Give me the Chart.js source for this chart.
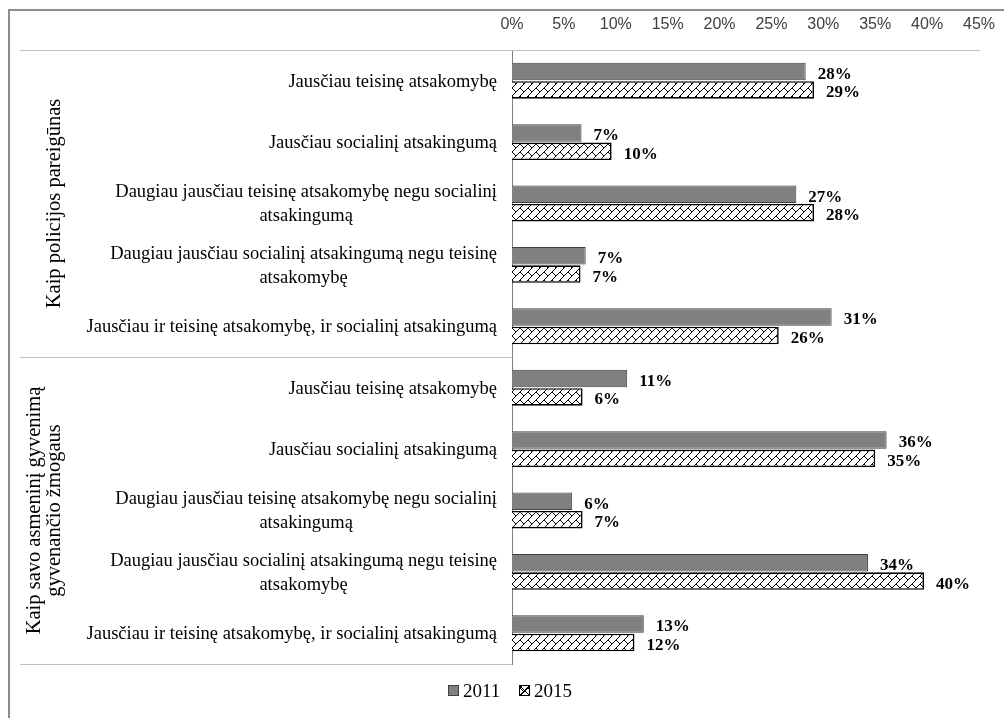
<!DOCTYPE html>
<html>
<head>
<meta charset="utf-8">
<script src="https://cdn.jsdelivr.net/npm/chart.js@4"></script>
<style>
  html, body { margin: 0; padding: 0; background: #fff; }
  #wrap { width: 1004px; height: 718px; }
</style>
</head>
<body>
<div id="wrap"><canvas id="chart" width="1004" height="718"></canvas></div>
<script>
// kategorijos (eilutės iš viršaus į apačią), kelių eilučių pavadinimai - masyvai
const categories = [
    ['Jausčiau teisinę atsakomybę'],
    ['Jausčiau socialinį atsakingumą'],
    ['Daugiau jausčiau teisinę atsakomybę negu socialinį', 'atsakingumą'],
    ['Daugiau jausčiau socialinį atsakingumą negu teisinę', 'atsakomybę'],
    ['Jausčiau ir teisinę atsakomybę, ir socialinį atsakingumą'],
    ['Jausčiau teisinę atsakomybę'],
    ['Jausčiau socialinį atsakingumą'],
    ['Daugiau jausčiau teisinę atsakomybę negu socialinį', 'atsakingumą'],
    ['Daugiau jausčiau socialinį atsakingumą negu teisinę', 'atsakomybę'],
    ['Jausčiau ir teisinę atsakomybę, ir socialinį atsakingumą']
];
const groups = [
    { lines: ['Kaip policijos pareigūnas'], from: 0, to: 4 },
    { lines: ['Kaip savo asmeninį gyvenimą', 'gyvenančio žmogaus'], from: 5, to: 9 }
];
const seriesNames = ['2011', '2015'];
// stulpelių ilgiai (nuskaityti nuo paveikslo)
const values2011 = [28.3, 6.7, 27.4, 7.1, 30.8, 11.1, 36.1, 5.8, 34.3, 12.7];
const values2015 = [29.1, 9.6, 29.1, 6.6, 25.7, 6.8, 35.0, 6.8, 39.7, 11.8];
// užrašai prie stulpelių
const labels2011 = ['28%', '7%', '27%', '7%', '31%', '11%', '36%', '6%', '34%', '13%'];
const labels2015 = ['29%', '10%', '28%', '7%', '26%', '6%', '35%', '7%', '40%', '12%'];
const tickMax = 45;
const tickStep = 5;

const serif = '"Liberation Serif", "Times New Roman", serif';

// brūkšniuotas raštas 2015 m.
function makeHatch() {
    const c = document.createElement('canvas');
    c.width = 8; c.height = 8;
    const g = c.getContext('2d');
    g.fillStyle = '#fff';
    g.fillRect(0, 0, 8, 8);
    g.strokeStyle = '#000';
    g.lineWidth = 1;
    g.beginPath();
    g.moveTo(-1, 9); g.lineTo(9, -1);
    g.moveTo(0, 0); g.lineTo(4, 4);
    g.stroke();
    return g.createPattern(c, 'repeat');
}
const ctx = document.getElementById('chart').getContext('2d');
const hatch = makeHatch();

const decorPlugin = {
    id: 'decor',
    beforeDraw(chart) {
        const c = chart.ctx;
        c.save();
        c.fillStyle = '#fff';
        c.fillRect(0, 0, chart.width, chart.height);
        c.restore();
    },
    afterDatasetsDraw(chart) {
        const c = chart.ctx;
        c.save();
        c.font = 'bold 17px ' + serif;
        c.fillStyle = '#000';
        c.textAlign = 'left';
        c.textBaseline = 'middle';
        const texts = [labels2011, labels2015];
        chart.data.datasets.forEach(function(ds, di) {
            chart.getDatasetMeta(di).data.forEach(function(bar, i) {
                c.fillText(texts[di][i], bar.x + 12, bar.y + 3);
            });
        });
        c.restore();
    },
    afterDraw(chart) {
        const c = chart.ctx;
        const y = chart.scales.y;
        const area = chart.chartArea;
        c.save();
        // rėmelis
        c.strokeStyle = '#8c8c8c';
        c.lineWidth = 2;
        c.beginPath();
        c.moveTo(9, chart.height);
        c.lineTo(9, 10);
        c.lineTo(chart.width, 10);
        c.stroke();

        // skiriamosios linijos
        c.strokeStyle = '#bfbfbf';
        c.lineWidth = 1;
        c.beginPath();
        c.moveTo(20, area.top + 0.5);
        c.lineTo(980, area.top + 0.5);
        groups.forEach(function(gr) {
            const yy = Math.round(y.getPixelForValue(gr.to + 0.5)) + 0.5;
            c.moveTo(20, yy);
            c.lineTo(area.left, yy);
        });
        c.stroke();

        // kategorijų pavadinimai
        c.font = '18.5px ' + serif;
        c.fillStyle = '#000';
        c.textAlign = 'center';
        c.textBaseline = 'middle';
        const lh = 24;
        categories.forEach(function(lines, i) {
            const cy = y.getPixelForValue(i) + 1;
            let w = 0;
            lines.forEach(function(l) { w = Math.max(w, c.measureText(l).width); });
            const cx = area.left - 15 - w / 2;
            lines.forEach(function(l, k) {
                c.fillText(l, cx, cy - (lines.length - 1) * lh / 2 + k * lh);
            });
        });

        // grupių pavadinimai (pasukti)
        c.font = '20.5px ' + serif;
        groups.forEach(function(gr) {
            const top = y.getPixelForValue(gr.from - 0.5);
            const bottom = y.getPixelForValue(gr.to + 0.5);
            const cy = (top + bottom) / 2;
            const n = gr.lines.length;
            gr.lines.forEach(function(l, k) {
                const cx = 55 - (n - 1 - k) * 20;
                c.save();
                c.translate(cx, cy);
                c.rotate(-Math.PI / 2);
                c.fillText(l, 0, 0);
                c.restore();
            });
        });

        // legenda
        const ly = 691;
        c.font = '19px ' + serif;
        c.textAlign = 'left';
        const items = chart.data.datasets;
        const xs = [448, 519];
        items.forEach(function(ds, di) {
            const bx = xs[di];
            c.fillStyle = ds.backgroundColor;
            c.fillRect(bx, ly - 6, 11, 11);
            c.strokeStyle = ds.borderColor;
            c.lineWidth = 1;
            c.strokeRect(bx + 0.5, ly - 5.5, 10, 10);
            if (di === 1) {
                c.beginPath();
                c.moveTo(bx + 1, ly - 5); c.lineTo(bx + 10, ly + 4);
                c.moveTo(bx + 10, ly - 5); c.lineTo(bx + 1, ly + 4);
                c.stroke();
            }
            c.fillStyle = '#000';
            c.fillText(ds.label, bx + 15, ly + 1);
        });
        c.restore();
    }
};

new Chart(ctx, {
    type: 'bar',
    data: {
        labels: categories,
        datasets: [{
            label: seriesNames[0],
            data: values2011,
            backgroundColor: '#808080',
            borderColor: '#404040',
            borderWidth: 1,
            categoryPercentage: 0.6,
            barPercentage: 0.95
        }, {
            label: seriesNames[1],
            data: values2015,
            backgroundColor: hatch,
            borderColor: '#000',
            borderWidth: 1.6,
            categoryPercentage: 0.6,
            barPercentage: 0.95
        }]
    },
    options: {
        indexAxis: 'y',
        responsive: false,
        animation: false,
        layout: { padding: { top: 10, right: 25, bottom: 54, left: 0 } },
        scales: {
            x: {
                position: 'top',
                min: 0,
                max: tickMax,
                afterFit: function(s) {
                    s.height = 40;
                    s.paddingLeft = 0;
                    s.paddingRight = 0;
                },
                ticks: {
                    stepSize: tickStep,
                    padding: 16,
                    color: '#404040',
                    font: { family: '"Liberation Sans", Arial, sans-serif', size: 16 },
                    callback: function(v) { return v + '%'; }
                },
                grid: { display: false, drawTicks: false },
                border: { display: false }
            },
            y: {
                afterFit: function(s) { s.width = 512; },
                ticks: { display: false },
                grid: { display: false, drawTicks: false },
                border: { display: true, color: '#7f7f7f', width: 1 }
            }
        },
        plugins: {
            legend: { display: false },
            tooltip: { enabled: false }
        }
    },
    plugins: [decorPlugin]
});
</script>
</body>
</html>
